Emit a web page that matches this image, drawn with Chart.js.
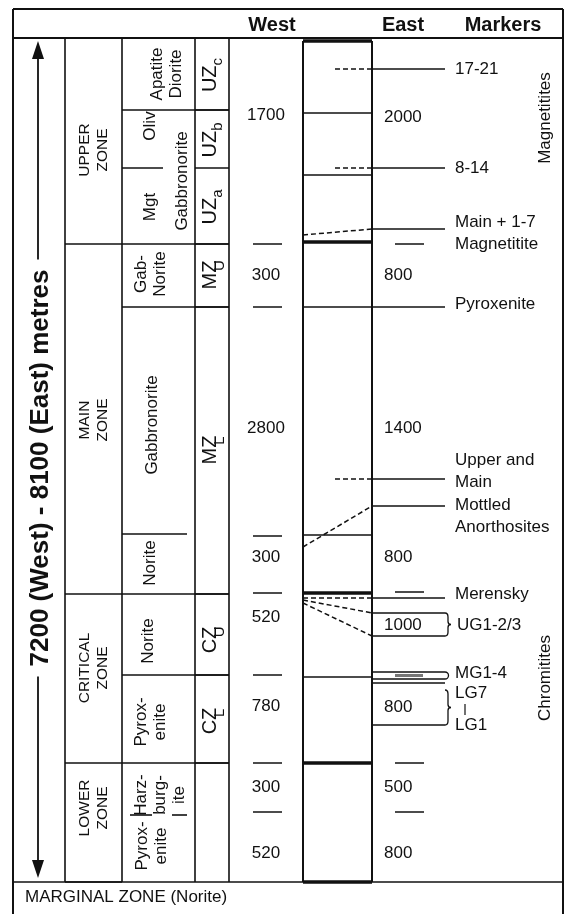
<!DOCTYPE html>
<html>
<head>
<meta charset="utf-8">
<script src="https://cdn.jsdelivr.net/npm/chart.js@4"></script>
<style>
html, body { margin: 0; padding: 0; background: #fff; }
#wrap { width: 565px; height: 914px; position: relative; }
</style>
</head>
<body>
<div id="wrap"><canvas id="chart"></canvas></div>
<script>
/* Data: depth = schematic distance below the top of the Upper Zone */

const zoneNames = [['UPPER', 'ZONE'], ['MAIN', 'ZONE'], ['CRITICAL', 'ZONE'], ['LOWER', 'ZONE']];
const zoneBase = [206, 556, 725, 844];
const zoneLabelDepth = [112, 382, 630, 770];

const rockNames = [['Apatite', 'Diorite'], ['Oliv'], ['Mgt'], ['Gabbronorite'], ['Gab-', 'Norite'],
    ['Gabbronorite'], ['Norite'], ['Norite'], ['Pyrox-', 'enite'], ['Harz-', 'burg-', 'ite'], ['Pyrox-', 'enite']];
const rockLabelDepth = [36, 88, 169, 143, 236, 387, 525, 603, 684, 757, 808];
const rockBase = [72, 206, 269, 556, 637, 725];

const subzones = [['UZ', 'c'], ['UZ', 'b'], ['UZ', 'a'], ['MZ', 'U'], ['MZ', 'L'], ['CZ', 'U'], ['CZ', 'L']];
const subzoneBase = [72, 130, 206, 269, 556, 637, 725];
const subzoneLabelDepth = [37, 102, 169, 237, 412, 602, 683];

const westThickness = [1700, 300, 2800, 300, 520, 780, 300, 520];
const westLabelDepth = [77, 237, 390, 519, 579, 668, 749, 815];
const westTicks = [206, 269, 498, 555, 637, 725, 774];

const eastThickness = [2000, 800, 1400, 800, 1000, 800, 500, 800];
const eastLabelDepth = [79, 237, 390, 519, 587, 669, 749, 815];
const eastTicks = [206, 554, 725, 774];

const columnThin = [75, 137, 497, 639];
const columnThick = [3, 204, 555, 725, 844];

const markerNames = [['17-21'], ['8-14'], ['Main + 1-7', 'Magnetitite'], ['Pyroxenite'],
    ['Upper and', 'Main'], ['Mottled', 'Anorthosites'], ['Merensky']];
const markerDepth = [31, 130, 191, 269, 441, 468, 560];
const markerTraceDepth = [31, 130, 197, 269, 441, 509, 560];
const markerTrace = ['part', 'part', 'full', 'solid', 'part', 'full', 'full'];
const markerLabelDepth = [31, 130, 184, 266, 422, 467, 556];

const ugTraceFrom = [562, 565];
const ugTraceTo = [575, 598];
const mgDepth = [634, 641];
const lgDepth = [645, 687];
const chromLabels = ['UG1-2/3', 'MG1-4', 'LG7', 'LG1'];
const chromLabelDepth = [587, 635, 655, 687];

/* Layout */
const C = { frameL: 13, arrow: 38, zone: 65, rock: 122, sub: 195, west: 229, westMid: 266,
    boxL: 303, inner: 335, boxR: 372, eastText: 384, markEnd: 445, label: 455, side: 545, frameR: 563 };
const FONT = '"Liberation Sans", Arial, Helvetica, sans-serif';
const INK = '#111';

function seg(x1, d1, x2, d2, dashed) {
    return {
        data: [{ x: x1, y: d1 }, { x: x2, y: d2 }],
        showLine: true,
        borderColor: INK,
        borderWidth: 1.5,
        borderDash: dashed ? [5, 3] : [],
        pointRadius: 0
    };
}

const traceStart = { part: C.inner, full: C.boxL, solid: C.boxL };
const datasets = [];
markerNames.forEach((name, i) => {
    datasets.push(seg(traceStart[markerTrace[i]], markerTraceDepth[i], C.boxR, markerDepth[i], markerTrace[i] !== 'solid'));
    datasets.push(seg(C.boxR, markerDepth[i], C.markEnd, markerDepth[i], false));
});
ugTraceFrom.forEach((d, i) => {
    datasets.push(seg(C.boxL, d, C.boxR, ugTraceTo[i], true));
    datasets.push(seg(C.boxR, ugTraceTo[i], C.markEnd, ugTraceTo[i], false));
});
mgDepth.concat(lgDepth).forEach(d => datasets.push(seg(C.boxR, d, C.markEnd, d, false)));

const diagram = {
    id: 'diagram',
    afterDraw(chart) {
        const ctx = chart.ctx;
        const X = v => chart.scales.x.getPixelForValue(v);
        const Y = d => chart.scales.y.getPixelForValue(d);
        ctx.save();
        ctx.strokeStyle = INK;
        ctx.fillStyle = INK;
        ctx.lineCap = 'butt';

        const h = (d, x1, x2, w) => {
            ctx.lineWidth = w || 1.6;
            ctx.beginPath(); ctx.moveTo(X(x1), Y(d)); ctx.lineTo(X(x2), Y(d)); ctx.stroke();
        };
        const v = (x, d1, d2, w) => {
            ctx.lineWidth = w || 1.6;
            ctx.beginPath(); ctx.moveTo(X(x), Y(d1)); ctx.lineTo(X(x), Y(d2)); ctx.stroke();
        };
        const text = (s, x, d, font, align) => {
            ctx.font = font; ctx.textAlign = align || 'center'; ctx.textBaseline = 'middle';
            ctx.fillText(s, X(x), Y(d));
        };
        const vtext = (lines, x, d, font, lh) => {
            ctx.font = font; ctx.textAlign = 'center'; ctx.textBaseline = 'middle';
            lines.forEach((s, i) => {
                ctx.save();
                ctx.translate(X(x) + (i - (lines.length - 1) / 2) * lh, Y(d));
                ctx.rotate(-Math.PI / 2);
                ctx.fillText(s, 0, 0);
                ctx.restore();
            });
        };
        const subLabel = (main, sub, x, d, under) => {
            ctx.save();
            ctx.translate(X(x), Y(d));
            ctx.rotate(-Math.PI / 2);
            ctx.textBaseline = 'middle'; ctx.textAlign = 'left';
            ctx.font = '20px ' + FONT;
            const wm = ctx.measureText(main).width;
            const wz = ctx.measureText(main.slice(-1)).width;
            ctx.font = '15px ' + FONT;
            const ws = ctx.measureText(sub).width;
            const total = under ? wm : wm + ws;
            ctx.font = '20px ' + FONT;
            ctx.fillText(main, -total / 2, -2);
            ctx.font = '15px ' + FONT;
            if (under) ctx.fillText(sub, -total / 2 + wm - wz / 2 - ws / 2 + 1, 8);
            else ctx.fillText(sub, -total / 2 + wm, 6);
            ctx.restore();
        };
        const brace = (x, d1, d2) => {
            const y1 = Y(d1), y2 = Y(d2), ym = (y1 + y2) / 2, x0 = X(x);
            ctx.lineWidth = 1.3;
            ctx.beginPath();
            ctx.moveTo(x0, y1);
            ctx.quadraticCurveTo(x0 + 3, y1, x0 + 3, y1 + 4);
            ctx.lineTo(x0 + 3, ym - 3);
            ctx.quadraticCurveTo(x0 + 3, ym, x0 + 6, ym);
            ctx.quadraticCurveTo(x0 + 3, ym, x0 + 3, ym + 3);
            ctx.lineTo(x0 + 3, y2 - 4);
            ctx.quadraticCurveTo(x0 + 3, y2, x0, y2);
            ctx.stroke();
        };

        // frame and header
        h(-29, C.frameL, C.frameR, 2);
        h(0, C.frameL, C.frameR, 2);
        h(844, C.frameL, C.frameR, 1.6);
        v(C.frameL, -29, 880, 2);
        v(C.frameR, -29, 880, 2);
        text('West', 272, -13, 'bold 20px ' + FONT);
        text('East', 403, -13, 'bold 20px ' + FONT);
        text('Markers', 503, -13, 'bold 20px ' + FONT);
        text('MARGINAL ZONE (Norite)', 25, 859, '17px ' + FONT, 'left');

        // column dividers
        [C.zone, C.rock, C.sub, C.west].forEach(x => v(x, 0, 844));

        // zones
        zoneBase.forEach(d => h(d, C.zone, C.rock));
        zoneNames.forEach((n, i) => vtext(n, 93.5, zoneLabelDepth[i], '15.5px ' + FONT, 18.5));

        // rock units
        rockBase.forEach(d => h(d, C.rock, C.west));
        h(130, C.rock, 163);
        h(496, C.rock, 187);
        h(777, 130, 152);
        h(777, 172, 187);
        const rockX = [166.5, 150, 150, 182, 151, 152, 150, 148, 151, 160, 152];
        rockNames.forEach((n, i) => vtext(n, rockX[i], rockLabelDepth[i], '17px ' + FONT, 19));

        // subzones
        subzoneBase.forEach(d => h(d, C.sub, C.west));
        subzones.forEach((s, i) => subLabel(s[0], s[1], 212, subzoneLabelDepth[i], s[0] !== 'UZ'));

        // west thicknesses
        westTicks.forEach(d => h(d, 253, 282, 1.5));
        westThickness.forEach((t, i) => text(String(t), C.westMid, westLabelDepth[i], '17px ' + FONT));

        // stratigraphic column
        v(C.boxL, 3, 844, 2);
        v(C.boxR, 3, 844, 2);
        columnThin.forEach(d => h(d, C.boxL, C.boxR, 1.6));
        columnThick.forEach(d => h(d, C.boxL, C.boxR, 3.5));

        // east thicknesses
        eastTicks.forEach(d => h(d, 395, 424, 1.5));
        eastThickness.forEach((t, i) => text(String(t), C.eastText, eastLabelDepth[i], '17px ' + FONT, 'left'));

        // markers
        markerNames.forEach((lines, i) => lines.forEach((s, j) =>
            text(s, C.label, markerLabelDepth[i] + j * 22, '17px ' + FONT, 'left')));

        // chromitite brackets
        brace(C.markEnd, ugTraceTo[0], ugTraceTo[1]);
        ctx.lineWidth = 1.3;
        ctx.beginPath();
        ctx.arc(X(C.markEnd), (Y(mgDepth[0]) + Y(mgDepth[1])) / 2, (Y(mgDepth[1]) - Y(mgDepth[0])) / 2, -Math.PI / 2, Math.PI / 2);
        ctx.stroke();
        ctx.strokeStyle = '#777';
        h((mgDepth[0] + mgDepth[1]) / 2, 395, 423, 3);
        ctx.strokeStyle = INK;
        brace(C.markEnd, 652, lgDepth[1]);
        text(chromLabels[0], 457, chromLabelDepth[0], '17px ' + FONT, 'left');
        text(chromLabels[1], 455, chromLabelDepth[1], '17px ' + FONT, 'left');
        text(chromLabels[2], 455, chromLabelDepth[2], '17px ' + FONT, 'left');
        text(chromLabels[3], 455, chromLabelDepth[3], '17px ' + FONT, 'left');
        v(465, 666, 677, 1.2);

        // side groupings
        vtext(['Magnetitites'], C.side, 80, '17px ' + FONT, 0);
        vtext(['Chromitites'], C.side, 640, '17px ' + FONT, 0);

        // thickness axis with arrows
        const caption = '7200 (West) - 8100 (East) metres';
        ctx.font = 'bold 26px ' + FONT;
        const half = ctx.measureText(caption).width / 2;
        const mid = Y(430);
        vtext([caption], 41, 430, 'bold 26px ' + FONT, 0);
        ctx.lineWidth = 1.8;
        ctx.beginPath();
        ctx.moveTo(X(C.arrow), Y(18)); ctx.lineTo(X(C.arrow), mid - half - 10);
        ctx.moveTo(X(C.arrow), mid + half + 10); ctx.lineTo(X(C.arrow), Y(826));
        ctx.stroke();
        ctx.beginPath();
        ctx.moveTo(X(C.arrow), Y(3)); ctx.lineTo(X(C.arrow) - 6, Y(21)); ctx.lineTo(X(C.arrow) + 6, Y(21));
        ctx.closePath(); ctx.fill();
        ctx.beginPath();
        ctx.moveTo(X(C.arrow), Y(840)); ctx.lineTo(X(C.arrow) - 6, Y(822)); ctx.lineTo(X(C.arrow) + 6, Y(822));
        ctx.closePath(); ctx.fill();

        ctx.restore();
    }
};

new Chart(document.getElementById('chart'), {
    type: 'scatter',
    data: { datasets },
    options: {
        responsive: true,
        maintainAspectRatio: false,
        animation: false,
        layout: { padding: 0 },
        plugins: { legend: { display: false }, tooltip: { enabled: false } },
        scales: {
            x: { type: 'linear', min: 0, max: 565, display: false },
            y: { type: 'linear', min: -38, max: 876, reverse: true, display: false }
        }
    },
    plugins: [diagram]
});
</script>
</body>
</html>
